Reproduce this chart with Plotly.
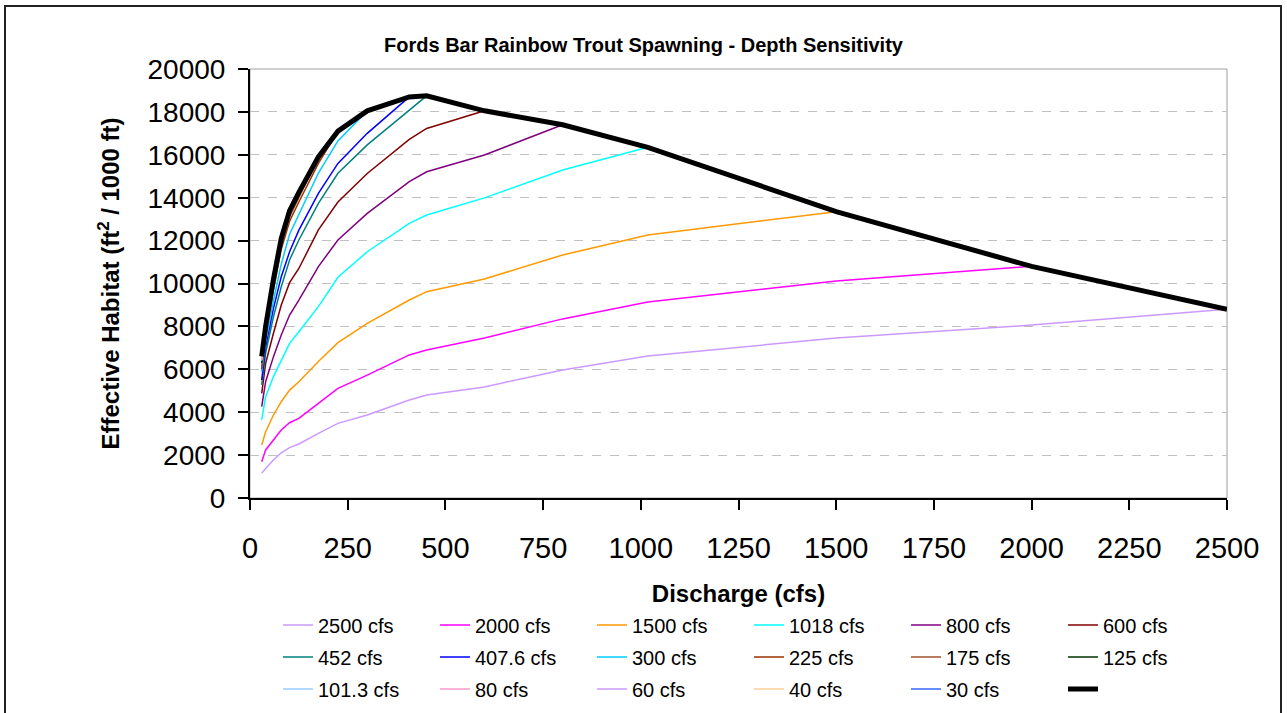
import plotly.graph_objects as go

discharge = [30, 40, 60, 80, 101.3, 125, 175, 225, 300, 407.6, 452, 600, 800, 1018, 1500, 2000, 2500]

series_names = ["2500 cfs", "2000 cfs", "1500 cfs", "1018 cfs", "800 cfs", "600 cfs",
                "452 cfs", "407.6 cfs", "300 cfs", "225 cfs", "175 cfs", "125 cfs",
                "101.3 cfs", "80 cfs", "60 cfs", "40 cfs", "30 cfs"]

s2500 = [1150, 1380, 1770, 2110, 2350, 2520, 3010, 3480, 3870, 4570, 4800, 5180, 5970, 6620, 7460, 8060, 8800]
s2000 = [1690, 2240, 2700, 3170, 3510, 3710, 4410, 5110, 5730, 6670, 6900, 7460, 8350, 9140, 10120, 10800]
s1500 = [2470, 3090, 3870, 4490, 5030, 5420, 6360, 7240, 8140, 9230, 9620, 10210, 11330, 12260, 13350]
s1018 = [3640, 4720, 5660, 6430, 7210, 7750, 8920, 10290, 11480, 12800, 13190, 13990, 15290, 16350]
s800 = [4260, 5420, 6590, 7600, 8530, 9230, 10790, 12030, 13270, 14750, 15210, 15990, 17400]
s600 = [4880, 6280, 7680, 9000, 10040, 10700, 12500, 13800, 15130, 16720, 17230, 18050]
s452 = [5270, 6750, 8450, 9850, 11100, 12030, 13740, 15140, 16460, 18090, 18750]
s407 = [5500, 7050, 8840, 10320, 11480, 12490, 14200, 15600, 17000, 18700]
s300 = [5890, 7300, 9200, 10900, 12300, 13200, 15150, 16650, 18050]
s225 = [6000, 7600, 9700, 11600, 12900, 13800, 15600, 17100]
s175 = [6100, 7700, 9900, 11800, 13100, 14000, 15900]
s125 = [6300, 7800, 10000, 11900, 13300, 14250]
s101 = [6400, 7900, 10100, 12000, 13400]
s80 = [6450, 7950, 10150, 12100]
s60 = [6500, 8000, 10200]
s40 = [6550, 8000]
s30 = [6600]

envelope = [6600, 8000, 10200, 12100, 13400, 14250, 15900, 17100, 18050, 18700, 18750,
            18050, 17400, 16350, 13350, 10800, 8800]

series_values = [s2500, s2000, s1500, s1018, s800, s600, s452, s407, s300, s225, s175,
                 s125, s101, s80, s60, s40, s30]

colors = ["#CC99FF", "#FF00FF", "#FF9900", "#00FFFF", "#800080", "#800000",
          "#008080", "#0000FF", "#00CCFF", "#993300", "#A0522D", "#003300",
          "#99CCFF", "#FF99CC", "#CC99FF", "#FFCC99", "#3366FF"]

FONT = "Arial, Liberation Sans, sans-serif"

W, H = 1287, 713
L, R, T, B = 250, 60, 69, 215
pw, ph = W - L - R, H - T - B


def px(xp):
    return (xp - L) / pw


def py(yp):
    return (H - B - yp) / ph


legend_ids = ["legend", "legend2", "legend3"]

fig = go.Figure()
for i, (name, vals, col) in enumerate(zip(series_names, series_values, colors)):
    fig.add_trace(go.Scatter(
        x=discharge[:len(vals)], y=vals, mode="lines", name=name,
        line=dict(color=col, width=1.5), legend=legend_ids[i // 6],
    ))
fig.add_trace(go.Scatter(
    x=discharge, y=envelope, mode="lines", name="\u00a0",
    line=dict(color="black", width=5), legend="legend3",
))

row_y = [625, 657, 689]
legend_common = dict(orientation="h", xanchor="left", yanchor="middle",
                     entrywidth=112, entrywidthmode="pixels", traceorder="normal",
                     font=dict(size=20, family=FONT, color="black"),
                     bgcolor="rgba(0,0,0,0)", itemwidth=30)

fig.update_layout(
    width=W, height=H,
    margin=dict(l=L, r=R, t=T, b=B, autoexpand=False),
    paper_bgcolor="white", plot_bgcolor="white",
    font=dict(family=FONT, color="black"),
    title=dict(text="<b>Fords Bar Rainbow Trout Spawning - Depth Sensitivity</b>",
               x=0.5, xref="container", xanchor="center",
               y=1 - 45 / H, yref="container", yanchor="middle",
               font=dict(size=20, family=FONT)),
    xaxis=dict(range=[0, 2500], dtick=250, tick0=0, showgrid=False,
               showline=True, linecolor="black", linewidth=2,
               ticks="outside", ticklen=10, tickcolor="black", tickwidth=2,
               ticklabelstandoff=13, automargin=False,
               tickfont=dict(size=29, family=FONT), zeroline=False,
               title=dict(text="<b>Discharge (cfs)</b>", font=dict(size=24, family=FONT), standoff=22)),
    yaxis=dict(range=[0, 20000], dtick=2000, tick0=0, showgrid=True, tickformat="d",
               gridcolor="#C0C0C0", griddash="dash", gridwidth=1,
               showline=True, linecolor="black", linewidth=2,
               ticks="outside", ticklen=10, tickcolor="black", tickwidth=2,
               ticklabelstandoff=7, automargin=False,
               tickfont=dict(size=28, family=FONT), zeroline=False,
               title=dict(text="<b>Effective Habitat (ft<sup>2</sup> / 1000 ft)</b>",
                          font=dict(size=24, family=FONT), standoff=21)),
    legend=dict(x=px(278), y=py(row_y[0]), **legend_common),
    legend2=dict(x=px(278), y=py(row_y[1]), **legend_common),
    legend3=dict(x=px(278), y=py(row_y[2]), **legend_common),
    showlegend=True,
)

# plot-area border (gray top & right)
fig.add_shape(type="rect", xref="paper", yref="paper", x0=0, y0=0, x1=1, y1=1,
              line=dict(color="#A0A0A0", width=1), layer="below")
# outer chart border
fig.add_shape(type="rect", xref="paper", yref="paper",
              x0=px(5), x1=px(1281), y0=py(740), y1=py(6),
              line=dict(color="#222222", width=2), layer="below")

fig.write_html("out.html", config={"displayModeBar": False},
               post_script="document.body.style.margin='0px';")
